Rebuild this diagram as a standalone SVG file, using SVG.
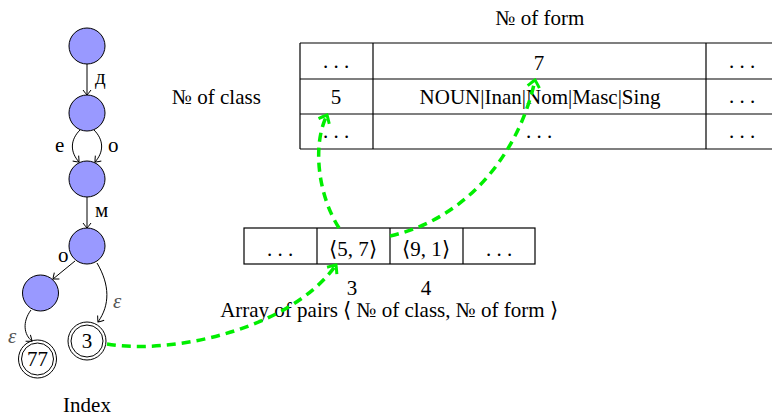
<svg xmlns="http://www.w3.org/2000/svg" width="772" height="416" viewBox="0 0 772 416">
<style>
text{font-family:"Liberation Serif","Times New Roman",serif;font-size:21px;fill:#000}
.c{text-anchor:middle}
.st{fill:#9999ff;stroke:#000;stroke-width:1}
.fin{fill:#fff;stroke:#000;stroke-width:1}
.e{fill:none;stroke:#000;stroke-width:1;marker-end:url(#ah)}
.g{fill:none;stroke:#00ee00;stroke-width:3.5;stroke-dasharray:9 6;marker-end:url(#gh)}
.tl{stroke:#000;stroke-width:1.2;fill:none}
.tb{stroke:#555;stroke-width:1.6;fill:none}
.eps{font-style:italic;fill:#555}
</style>
<defs>
<marker id="ah" markerUnits="userSpaceOnUse" markerWidth="12" markerHeight="12" refX="0" refY="0" viewBox="-7 -6 8 12" orient="auto" overflow="visible">
<path d="M-5,-4 Q-1,-1 0,0 Q-1,1 -5,4" fill="none" stroke="#000" stroke-width="1"/>
</marker>
<marker id="gh" markerUnits="userSpaceOnUse" markerWidth="16" markerHeight="16" refX="0" refY="0" viewBox="-9 -8 10 16" orient="auto" overflow="visible">
<path d="M-7,-6 Q-1.5,-1.5 0,0 Q-1.5,1.5 -7,6" fill="none" stroke="#00ee00" stroke-width="3"/>
</marker>
</defs>

<g id="table">
<line class="tb" x1="300" y1="43" x2="772" y2="43"/>
<line class="tb" x1="300" y1="149" x2="772" y2="149"/>
<line class="tl" x1="300" y1="79" x2="772" y2="79"/>
<line class="tl" x1="300" y1="114" x2="772" y2="114"/>
<line class="tl" x1="300" y1="43" x2="300" y2="149"/>
<line class="tl" x1="373" y1="43" x2="373" y2="149"/>
<line class="tl" x1="706" y1="43" x2="706" y2="149"/>
<text class="c" x="336" y="68">. . .</text>
<text class="c" x="539" y="70">7</text>
<text class="c" x="742" y="68">. . .</text>
<text class="c" x="336" y="104">5</text>
<text class="c" x="540" y="104">NOUN|Inan|Nom|Masc|Sing</text>
<text class="c" x="742" y="103">. . .</text>
<text class="c" x="336" y="138">. . .</text>
<text class="c" x="539" y="138">. . .</text>
<text class="c" x="742" y="138">. . .</text>
<text class="c" x="540" y="25">№ of form</text>
<text x="172" y="104">№ of class</text>
</g>

<g id="array">
<rect class="tl" x="244" y="228" width="291" height="36"/>
<line class="tl" x1="317" y1="228" x2="317" y2="264"/>
<line class="tl" x1="390" y1="228" x2="390" y2="264"/>
<line class="tl" x1="463" y1="228" x2="463" y2="264"/>
<text class="c" x="280" y="256">. . .</text>
<text class="c" x="353" y="256">⟨5, 7⟩</text>
<text class="c" x="426" y="256">⟨9, 1⟩</text>
<text class="c" x="499" y="256">. . .</text>
<text class="c" x="352" y="295">3</text>
<text class="c" x="426" y="295">4</text>
<text class="c" x="389" y="317">Array of pairs ⟨ № of class, № of form ⟩</text>
</g>

<g id="n1"><circle class="st" cx="87" cy="46" r="18"/></g>
<g id="n2"><circle class="st" cx="87" cy="113" r="18"/></g>
<g id="n3"><circle class="st" cx="87" cy="179" r="18"/></g>
<g id="n4"><circle class="st" cx="87" cy="246" r="18"/></g>
<g id="n5"><circle class="st" cx="40.5" cy="293" r="18"/></g>
<g id="n6"><circle class="fin" cx="87" cy="341" r="19"/><circle class="fin" cx="87" cy="341" r="16"/><text class="c" x="87" y="348">3</text></g>
<g id="n7"><circle class="fin" cx="37.5" cy="359" r="19"/><circle class="fin" cx="37.5" cy="359" r="16"/><text class="c" x="37.5" y="366">77</text></g>
<text class="c" x="87" y="412">Index</text>

<g id="connectors">
<path class="e" d="M87,64 L87,95"/>
<path class="e" d="M80,130 C70,140 70,152 79,162"/>
<path class="e" d="M94,130 C104,140 104,152 95,162"/>
<path class="e" d="M87,197 L87,228"/>
<path class="e" d="M75,261 L53,279"/>
<path class="e" d="M97,263 C110,285 110,305 98,322"/>
<path class="e" d="M31,310 C22,322 24,335 32,341"/>
<text x="95" y="84">д</text>
<text x="55" y="152">е</text>
<text x="108" y="152">о</text>
<text x="95" y="217">м</text>
<text x="58" y="262">о</text>
<text class="eps" x="113" y="308">ε</text>
<text class="eps" x="8" y="343">ε</text>
<path class="g" d="M107,344 C170,355 290,330 336,265"/>
<path class="g" d="M339,228 C318,195 312,145 327,115"/>
<path class="g" d="M390,236 C470,218 520,150 535,80"/>
</g>
</svg>
